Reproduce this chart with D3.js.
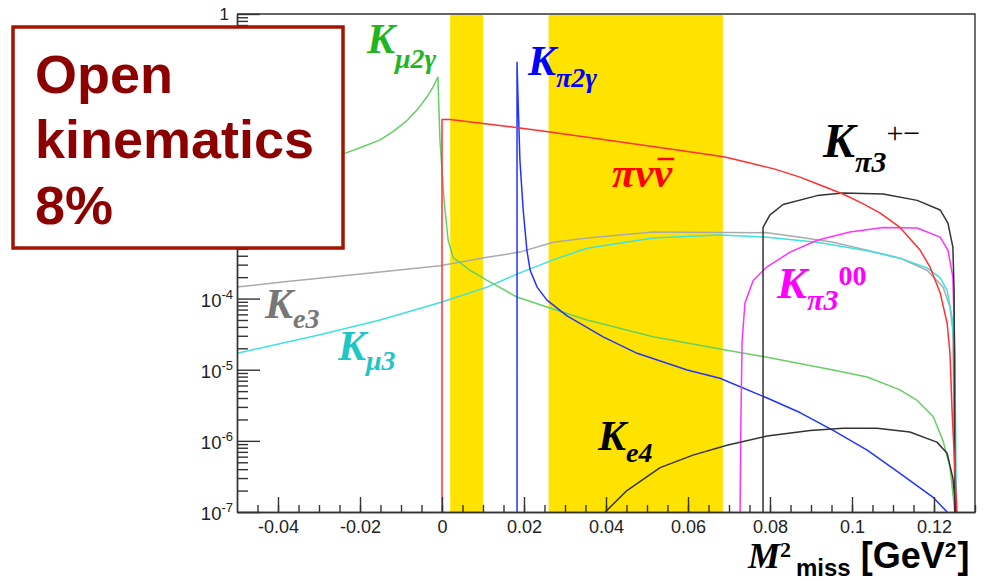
<!DOCTYPE html>
<html lang="en">
<head>
<meta charset="UTF-8" />
<title>Missing mass squared - kaon backgrounds</title>
<script src="https://d3js.org/d3.v7.min.js"></script>
<style>
  body { margin: 0; background: #fff; }
  svg { display: block; font-family: "Liberation Sans", Arial, sans-serif; }
  .axis text { font-size: 18px; fill: #222; font-family: "Liberation Sans", Arial, sans-serif; }
  .axis path, .axis line { stroke: #333; stroke-width: 1.4px; }
  .curve { fill: none; stroke-width: 1.5px; stroke-linejoin: round; }
  .lbl { font-family: "Liberation Serif", "Times New Roman", serif; font-weight: bold; font-style: italic; }
</style>
</head>
<body>
<svg width="988" height="581"></svg>
<script>
// M2miss [GeV^2] vs normalised rate
const piNuNu = [[0,1e-7],[0,3.3e-2],[0.002,3.3e-2],[0.010,2.9e-2],[0.019,2.5e-2],[0.0263,2.2e-2],
  [0.0385,1.75e-2],[0.0629,1.1e-2],[0.069,9.8e-3],[0.0751,8.05e-3],[0.0812,6.6e-3],[0.0873,5.1e-3],
  [0.0922,3.95e-3],[0.0978,2.95e-3],[0.1024,2.2e-3],[0.1068,1.6e-3],[0.1117,1.0e-3],[0.1166,4.8e-4],
  [0.119,2.8e-4],[0.1215,1.2e-4],[0.1232,4.5e-5],[0.1239,1.7e-5],[0.1244,2.7e-6],[0.1251,3.9e-7],
  [0.1256,1e-7]];

const kmu2g = [[-0.05,3.6e-3],[-0.0237,1.1e-2],[-0.0195,1.35e-2],[-0.0151,1.7e-2],[-0.0117,2.27e-2],
  [-0.0085,3.2e-2],[-0.0059,4.6e-2],[-0.0037,6.8e-2],[-0.0022,9.4e-2],
  [-0.001,0.13],[-0.0005,1.7e-2],[0.0005,2.4e-3],[0.0015,6.6e-4],[0.0027,3.8e-4],[0.0068,2.5e-4],
  [0.011,1.8e-4],[0.0183,1.05e-4],[0.0256,7.6e-5],[0.0354,5.0e-5],[0.0515,2.9e-5],[0.0678,1.95e-5],
  [0.0793,1.5e-5],[0.0954,9.9e-6],[0.1037,7.9e-6],[0.1117,5.2e-6],[0.1159,3.7e-6],[0.1198,2.2e-6],
  [0.1222,1.0e-6],[0.1239,4.3e-7],[0.1251,1e-7]];

const kpi2g = [[0.0183,1e-7],[0.0183,0.21],[0.0185,7.8e-2],[0.019,8.9e-3],[0.0198,1.76e-3],
  [0.0207,4.8e-4],[0.0215,2.5e-4],[0.0232,1.45e-4],[0.0256,9.5e-5],[0.0305,5.7e-5],[0.0393,2.9e-5],
  [0.0476,1.7e-5],[0.0598,9.9e-6],[0.0678,7.6e-6],[0.0793,4.0e-6],[0.0873,2.5e-6],[0.0954,1.4e-6],
  [0.1037,7.4e-7],[0.1117,3.5e-7],[0.1198,1.6e-7],[0.1232,1e-7]];

const ke3 = [[-0.05,1.45e-4],[-0.0395,1.7e-4],[-0.0151,2.36e-4],[-0.0005,2.9e-4],[0.011,3.8e-4],
  [0.019,4.5e-4],[0.0271,6.2e-4],[0.0354,7.1e-4],[0.0515,8.6e-4],[0.0793,8.4e-4],[0.0873,7.3e-4],
  [0.0954,6.2e-4],[0.1037,4.8e-4],[0.1117,3.7e-4],[0.1183,2.5e-4],[0.1222,1.45e-4],[0.1239,7.6e-5],
  [0.1246,3.6e-5],[0.1251,1e-7]];

const kmu3 = [[-0.05,1.7e-5],[-0.0298,3.1e-5],[-0.0151,5.0e-5],[0.0002,9.0e-5],[0.011,1.45e-4],
  [0.019,2.3e-4],[0.0271,3.5e-4],[0.0354,5.1e-4],[0.0515,7.1e-4],[0.0678,7.8e-4],[0.0793,7.3e-4],
  [0.0915,6.2e-4],[0.1037,4.7e-4],[0.1117,3.7e-4],[0.1183,2.7e-4],[0.1215,1.95e-4],[0.1232,1.3e-4],
  [0.1244,5.5e-5],[0.1251,1.4e-5],[0.1254,2.8e-7],[0.1254,1e-7]];

const kpi3pm = [[0.0783,1e-7],[0.0783,1.0e-3],[0.08,1.5e-3],[0.0832,2.1e-3],[0.0915,2.8e-3],
  [0.0978,3.05e-3],[0.1076,2.95e-3],[0.1159,2.4e-3],[0.1215,1.76e-3],[0.1234,1.15e-3],
  [0.1246,5.3e-4],[0.1249,1.3e-4],[0.1251,1e-7]];

const kpi300 = [[0.0727,1e-7],[0.0729,2.0e-6],[0.0732,2.6e-5],[0.0739,8.7e-5],[0.0759,1.8e-4],
  [0.0793,2.8e-4],[0.0849,4.5e-4],[0.0915,6.6e-4],[0.0995,8.6e-4],[0.1076,1.0e-3],[0.1159,9.8e-4],
  [0.1215,7.3e-4],[0.1234,4.8e-4],[0.1246,2.0e-4],[0.1251,1.9e-5],[0.1251,1e-7]];

const ke4 = [[0.0398,1e-7],[0.0451,2.0e-7],[0.0532,4.2e-7],[0.0612,6.3e-7],[0.0695,8.7e-7],
  [0.0793,1.17e-6],[0.0898,1.4e-6],[0.0978,1.5e-6],[0.1061,1.5e-6],[0.1141,1.33e-6],[0.1207,9.6e-7],
  [0.1232,6.7e-7],[0.1246,3.0e-7],[0.1254,1e-7]];

// signal regions (yellow)
const regions = [[0.002, 0.010], [0.026, 0.0685]];

const xMajor = [-0.04, -0.02, 0, 0.02, 0.04, 0.06, 0.08, 0.1, 0.12];
const yDecades = [1e-7, 1e-6, 1e-5, 1e-4, 1e-3, 1e-2, 1e-1, 1];

const svg = d3.select("svg");
const x = d3.scaleLinear().domain([-0.05, 0.13]).range([237, 975]);
const y = d3.scaleLog().domain([1e-7, 1]).range([512, 14]);

// text box on top left, labels it covers are not drawn
const box = { x: 13, y: 27, w: 330, h: 221 };

svg.append("g").selectAll("rect").data(regions).join("rect")
  .attr("x", d => x(d[0])).attr("width", d => x(d[1]) - x(d[0]))
  .attr("y", y(1) + 1).attr("height", y(1e-7) - y(1) - 1)
  .attr("fill", "#ffe300");

svg.append("clipPath").attr("id", "plot").append("rect")
  .attr("x", 237).attr("y", 14).attr("width", 738).attr("height", 498);

const line = d3.line().x(d => x(d[0])).y(d => y(d[1]));
const curves = [
  [ke3, "#aaaaaa"], [kmu3, "#3fe0e0"], [kmu2g, "#66cf66"], [kpi2g, "#2233ff"],
  [kpi300, "#ff33ff"], [kpi3pm, "#333333"], [ke4, "#333333"], [piNuNu, "#ff3030"]
];
svg.append("g").attr("clip-path", "url(#plot)").selectAll("path").data(curves).join("path")
  .attr("class", "curve").attr("d", d => line(d[0])).attr("stroke", d => d[1]);

// x axis, ROOT style ticks pointing inwards
const xMinor = d3.range(-0.045, 0.1301, 0.005).map(v => +v.toFixed(3));
svg.append("g").attr("class", "axis").attr("transform", `translate(0,${y(1e-7)})`)
  .call(d3.axisBottom(x).tickValues(xMinor).tickSize(-7).tickSizeOuter(0).tickFormat(""));
svg.append("g").attr("class", "axis").attr("transform", `translate(0,${y(1e-7)})`)
  .call(d3.axisBottom(x).tickValues(xMajor).tickSize(-15).tickSizeOuter(0).tickPadding(8)
    .tickFormat(d => String(+d.toFixed(2))));

// y axis
const yMinor = [];
yDecades.slice(0, -1).forEach(d => { for (let k = 2; k <= 9; k++) yMinor.push(d * k); });
svg.append("g").attr("class", "axis").attr("transform", `translate(${x(-0.05)},0)`)
  .call(d3.axisLeft(y).tickValues(yMinor).tickSize(-11).tickSizeOuter(0).tickFormat(""));
svg.append("g").attr("class", "axis").attr("transform", `translate(${x(-0.05)},0)`)
  .call(d3.axisLeft(y).tickValues(yDecades).tickSize(-23).tickSizeOuter(0).tickFormat(""));

const visibleDecades = yDecades.filter(d => y(d) < box.y || y(d) > box.y + box.h);
const yl = svg.append("g").attr("fill", "#222").selectAll("text").data(visibleDecades).join("text")
  .attr("x", 233).attr("y", d => y(d) + (d === 1 ? 6 : 8)).attr("text-anchor", "end");
yl.filter(d => d === 1).attr("x", 229).attr("font-size", 17).text("1");
yl.filter(d => d !== 1).each(function (d) {
  const t = d3.select(this);
  t.append("tspan").attr("font-size", 18.5).text("10");
  t.append("tspan").attr("font-size", 13).attr("dy", -8).text(String(Math.round(Math.log10(d))));
});

// frame
svg.append("path").attr("fill", "none").attr("stroke", "#333").attr("stroke-width", 1.4)
  .attr("d", `M${x(-0.05)},${y(1)}H${x(0.13)}V${y(1e-7)}`);

// curve labels
function label(px, py, color, parts) {
  const t = svg.append("text").attr("class", "lbl").attr("x", px).attr("y", py).attr("fill", color);
  parts.forEach(p => {
    const s = t.append("tspan").attr("font-size", p.size).attr("dy", p.dy || 0).text(p.t);
    if (p.upright) s.style("font-style", "normal");
    if (p.normal) s.style("font-weight", "normal");
  });
  return t;
}
label(367, 53, "#22b522", [{ t: "K", size: 42 }, { t: "μ2γ", size: 28, dy: 15 }]);
label(528, 75, "#0000ff", [{ t: "K", size: 42 }, { t: "π2γ", size: 28, dy: 12 }]);
const pnn = label(612, 187, "#ff0000", [{ t: "πνν", size: 42 }]);
const tn = pnn.node();
const b0 = tn.getStartPositionOfChar(2), b1 = tn.getEndPositionOfChar(2);
svg.append("line").attr("x1", b0.x + 4).attr("x2", b1.x + 2).attr("y1", 159).attr("y2", 159)
  .attr("stroke", "#ff0000").attr("stroke-width", 2.5);
label(823, 157, "#000", [{ t: "K", size: 48 }, { t: "π3", size: 30, dy: 15 },
  { t: "+−", size: 30, dy: -29, upright: true, normal: true }]);
label(777, 298, "#ff00ff", [{ t: "K", size: 45 }, { t: "π3", size: 30, dy: 12 },
  { t: "00", size: 28, dy: -25, upright: true }]);
label(265, 318, "#777777", [{ t: "K", size: 42 }, { t: "e3", size: 28, dy: 10 }]);
label(338, 360, "#1fc6c6", [{ t: "K", size: 42 }, { t: "μ3", size: 28, dy: 10 }]);
label(598, 450, "#000", [{ t: "K", size: 42 }, { t: "e4", size: 28, dy: 12 }]);

// x axis title
const xt = svg.append("text").attr("x", 748).attr("y", 568).attr("fill", "#000");
xt.append("tspan").attr("class", "lbl").attr("font-size", 36).text("M");
xt.append("tspan").attr("font-family", "Liberation Serif, serif").attr("font-weight", "bold")
  .attr("font-size", 22).attr("dy", -11).text("2");
xt.append("tspan").attr("font-weight", "bold").attr("font-size", 24).attr("dx", 5).attr("dy", 19).text("miss");
xt.append("tspan").attr("font-weight", "bold").attr("font-size", 36).attr("dx", 10).attr("dy", -8).text("[GeV");
xt.append("tspan").attr("font-weight", "bold").attr("font-size", 21).attr("dy", -11).text("2");
xt.append("tspan").attr("font-weight", "bold").attr("font-size", 36).attr("dx", 1).attr("dy", 11).text("]");

// text box
svg.append("rect").attr("x", box.x).attr("y", box.y).attr("width", box.w).attr("height", box.h)
  .attr("fill", "#fff").attr("stroke", "#a31400").attr("stroke-width", 3.5);
svg.append("g").attr("fill", "#8c0000").attr("font-weight", "bold").attr("font-size", 54)
  .selectAll("text").data(["Open", "kinematics", "8%"]).join("text")
  .attr("x", 35).attr("y", (d, i) => [93, 158, 224][i]).text(d => d);
</script>
</body>
</html>
